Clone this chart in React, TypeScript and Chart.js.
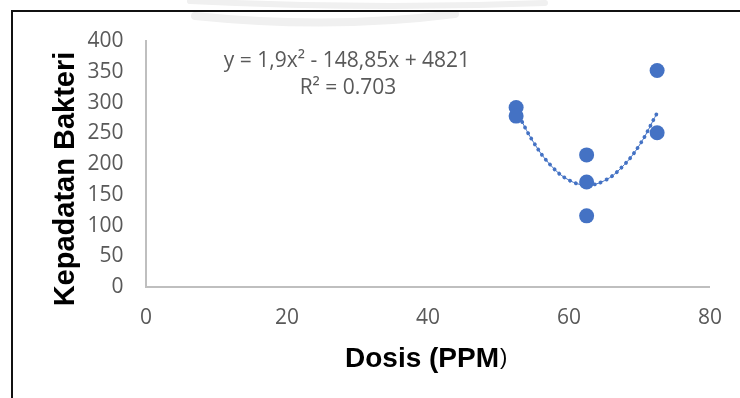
import React, { useEffect, useRef } from "react";
import { Chart, registerables } from "chart.js";

Chart.register(...registerables);

// ---- data ----
const doseX = [52.5, 52.5, 62.5, 62.5, 62.5, 72.5, 72.5];
const density = [292, 278, 215, 171, 116, 352, 251];

// polynomial (order 2) trendline
const trendX = [52.5, 55, 57.5, 60, 62.5, 65, 67.5, 70, 72.5];
const trendY = [287, 235, 197, 174, 166, 173, 195, 231, 283];

const xRange = [0, 80];
const xStep = 20;
const yRange = [0, 400];
const yStep = 50;

const equationText = "y = 1,9x² - 148,85x + 4821";
const rSquaredText = "R² = 0.703";
const xTitleMain = "Dosis (PPM";
const xTitleEnd = ")";
const yTitle = "Kepadatan Bakteri";

const BLUE = "#4472C4";
const TICK_FONT = '"Open Sans", "Noto Sans", sans-serif';
const TITLE_FONT = '"Liberation Sans", Arial, sans-serif';

const decorPlugin = {
  id: "decor",
  beforeDraw(chart: any) {
    const ctx = chart.ctx as CanvasRenderingContext2D;
    ctx.save();
    ctx.fillStyle = "#ffffff";
    ctx.fillRect(0, 0, chart.width, chart.height);
    // faint watermark arcs at the top
    ctx.strokeStyle = "#f0f0f0";
    ctx.lineCap = "round";
    ctx.lineWidth = 6;
    ctx.beginPath();
    ctx.moveTo(190, 1);
    ctx.quadraticCurveTo(370, 10, 545, 3);
    ctx.stroke();
    ctx.lineWidth = 8;
    ctx.beginPath();
    ctx.moveTo(195, 16);
    ctx.quadraticCurveTo(330, 30, 455, 14);
    ctx.stroke();
    ctx.restore();
  },
  afterDraw(chart: any) {
    const ctx = chart.ctx as CanvasRenderingContext2D;
    ctx.save();
    // frame
    ctx.strokeStyle = "#111111";
    ctx.lineWidth = 2;
    ctx.beginPath();
    ctx.moveTo(12, chart.height + 2);
    ctx.lineTo(12, 11);
    ctx.lineTo(chart.width + 2, 11);
    ctx.stroke();

    // equation
    ctx.fillStyle = "#595959";
    ctx.font = `21px ${TICK_FONT}`;
    ctx.textAlign = "center";
    ctx.textBaseline = "middle";
    ctx.fillText(equationText, 347, 61);
    ctx.fillText(rSquaredText, 348, 88);

    // y title
    ctx.fillStyle = "#000000";
    ctx.font = `bold 29px ${TITLE_FONT}`;
    ctx.textAlign = "center";
    ctx.textBaseline = "alphabetic";
    ctx.save();
    ctx.translate(73.5, 179);
    ctx.rotate(-Math.PI / 2);
    ctx.fillText(yTitle, 0, 0);
    ctx.restore();

    // x title
    ctx.textAlign = "left";
    ctx.font = `bold 28px ${TITLE_FONT}`;
    const startX = 345;
    ctx.fillText(xTitleMain, startX, 367);
    const w = ctx.measureText(xTitleMain).width;
    ctx.font = `22px ${TITLE_FONT}`;
    ctx.fillText(xTitleEnd, startX + w + 1, 364);
    ctx.restore();
  },
};

export default function App() {
  const canvasRef = useRef<HTMLCanvasElement | null>(null);

  useEffect(() => {
    if (!canvasRef.current) return;
    const points = doseX.map((x, i) => ({ x, y: density[i] }));
    const trend = trendX.map((x, i) => ({ x, y: trendY[i] }));

    const chart = new Chart(canvasRef.current, {
      type: "scatter",
      data: {
        datasets: [
          {
            label: "Kepadatan Bakteri",
            data: points,
            pointRadius: 7.5,
            pointHoverRadius: 7.5,
            backgroundColor: BLUE,
            borderColor: BLUE,
            borderWidth: 0,
          },
          {
            label: "Poly. trend dots",
            data: trend,
            showLine: true,
            pointRadius: 0,
            borderColor: BLUE,
            borderWidth: 3.8,
            borderDash: [0.1, 6.3],
            borderCapStyle: "round",
            tension: 0.4,
          },
          {
            label: "Poly. trend",
            data: trend,
            showLine: true,
            pointRadius: 0,
            borderColor: BLUE,
            borderWidth: 1,
            tension: 0.4,
          },
        ],
      },
      options: {
        animation: false,
        responsive: false,
        maintainAspectRatio: false,
        devicePixelRatio: 1,
        layout: { padding: { left: 0, top: 41, right: 29.3, bottom: 0 } },
        plugins: {
          legend: { display: false },
          tooltip: { enabled: false },
        },
        scales: {
          x: {
            type: "linear",
            min: xRange[0],
            max: xRange[1],
            grid: { display: false, drawTicks: false },
            border: { display: true, color: "#bfbfbf", width: 2 },
            ticks: {
              stepSize: xStep,
              padding: 18,
              color: "#595959",
              font: { family: TICK_FONT, size: 21 },
              maxRotation: 0,
            },
            afterFit(scale: any) {
              scale.height = 110.7;
            },
          },
          y: {
            type: "linear",
            min: yRange[0],
            max: yRange[1],
            grid: { display: false, drawTicks: false },
            border: { display: true, color: "#bfbfbf", width: 2 },
            ticks: {
              stepSize: yStep,
              padding: 22.5,
              color: "#595959",
              font: { family: TICK_FONT, size: 21 },
            },
            afterFit(scale: any) {
              scale.width = 146;
            },
          },
        },
      },
      plugins: [decorPlugin],
    } as any);

    return () => chart.destroy();
  }, []);

  return (
    <div style={{ position: "fixed", left: 0, top: 0, width: 740, height: 398, background: "#fff" }}>
      <canvas ref={canvasRef} width={740} height={398} style={{ display: "block", width: 740, height: 398 }} />
    </div>
  );
}
